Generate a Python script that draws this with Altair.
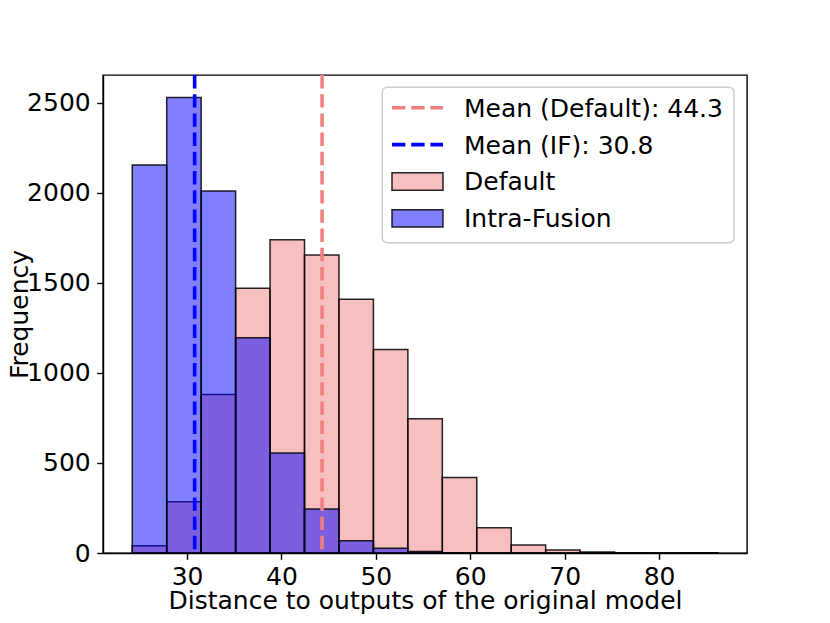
import altair as alt
import pandas as pd

# ---- data ----
bin_edges = [24.19, 27.84, 31.49, 35.14, 38.79, 42.44, 46.09, 49.74, 53.39,
             57.04, 60.69, 64.34, 67.99, 71.64, 75.29, 78.94, 82.59, 86.24]
default_counts = [40, 285, 880, 1470, 1740, 1655, 1410, 1130, 745,
                  420, 140, 45, 17, 5, 1, 0, 1]
intra_fusion_counts = [2155, 2530, 2010, 1195, 555, 245, 68, 27, 8,
                       2, 0, 0, 0, 0, 0, 0, 0]
mean_default = 44.3
mean_if = 30.8
x_ticks = [30, 40, 50, 60, 70, 80]
y_ticks = [0, 500, 1000, 1500, 2000, 2500]
legend_labels = [f"Mean (Default): {mean_default}", f"Mean (IF): {mean_if}",
                 "Default", "Intra-Fusion"]

PINK = "#F08080"
BLUE = "#0000FF"
FONT = "DejaVu Sans"
FS = 25
DASH = [13.4, 5.8]


def hist_df(counts, name):
    return pd.DataFrame({"start": bin_edges[:-1], "end": bin_edges[1:],
                         "count": counts, "series": name})


x_scale = alt.Scale(domain=[21.09, 89.32], nice=False, zero=False)
y_scale = alt.Scale(domain=[0, 2655], nice=False, zero=True)

x_axis = alt.Axis(values=x_ticks, format="d",
                  title="Distance to outputs of the original model",
                  grid=False, labelFlush=False, labelOverlap=False,
                  labelPadding=5, titleY=55.5, titleBaseline="alphabetic")
y_axis = alt.Axis(values=y_ticks, format="d", title="Frequency", grid=False,
                  labelOverlap=False, titleX=-75.5, titleY=239,
                  titleBaseline="alphabetic", titleAngle=-90, titleAlign="center")

bar_style = dict(stroke="black", strokeWidth=1.5, strokeOpacity=0.85, fillOpacity=0.5)


def bars(counts, name, color):
    return alt.Chart(hist_df(counts, name)).mark_bar(fill=color, **bar_style).encode(
        x=alt.X("start:Q", scale=x_scale, axis=x_axis),
        x2="end:Q",
        y=alt.Y("count:Q", scale=y_scale, axis=y_axis),
        y2=alt.datum(0),
    )


default_bars = bars(default_counts, "Default", PINK)
if_bars = bars(intra_fusion_counts, "Intra-Fusion", BLUE)


def mean_rule(value, color):
    return alt.Chart(pd.DataFrame({"mean": [value]})).mark_rule(
        color=color, strokeWidth=3.6, strokeDash=DASH
    ).encode(x=alt.X("mean:Q", scale=x_scale, axis=x_axis))


mean_default_rule = mean_rule(mean_default, PINK)
mean_if_rule = mean_rule(mean_if, BLUE)

# ---- legend (drawn inside the plot, top right) ----
one = pd.DataFrame({"a": [0]})
legend_layers = [
    alt.Chart(one).mark_rect(fill="white", fillOpacity=0.8, stroke="#cccccc",
                             strokeWidth=1.4, cornerRadius=5).encode(
        x=alt.value(279.3), x2=alt.value(631), y=alt.value(12.3), y2=alt.value(167.7))
]
row0, step = 32.7, 36.9
for i, label in enumerate(legend_labels):
    cy = row0 + i * step
    if i < 2:
        legend_layers.append(
            alt.Chart(one).mark_rule(color=[PINK, BLUE][i], strokeWidth=3.6,
                                     strokeDash=DASH).encode(
                x=alt.value(289), x2=alt.value(340), y=alt.value(cy)))
    else:
        legend_layers.append(
            alt.Chart(one).mark_rect(fill=[PINK, BLUE][i - 2], fillOpacity=0.5,
                                     stroke="black", strokeWidth=1.5,
                                     strokeOpacity=0.85).encode(
                x=alt.value(289), x2=alt.value(340),
                y=alt.value(cy - 8.7), y2=alt.value(cy + 8.7)))
    legend_layers.append(
        alt.Chart(one).mark_text(align="left", baseline="alphabetic", font=FONT,
                                 fontSize=FS, color="black").encode(
            x=alt.value(361), y=alt.value(cy + 8.9), text=alt.value(label)))

chart = alt.layer(
    default_bars, if_bars, mean_default_rule, mean_if_rule, *legend_layers
).properties(
    width=644, height=478, autosize="none",
    padding={"left": 95, "top": 67, "right": 75, "bottom": 62},
    background="white",
).configure_view(
    stroke="black", strokeWidth=1.4
).configure_axis(
    labelFont=FONT, labelFontSize=FS, labelColor="black",
    titleFont=FONT, titleFontSize=FS, titleColor="black", titleFontWeight="normal",
    domainColor="black", domainWidth=1.4, tickColor="black", tickWidth=1.4,
    tickSize=6.3, labelPadding=6.5,
)

chart.save("out.html", embed_options={"renderer": "svg", "actions": False})
